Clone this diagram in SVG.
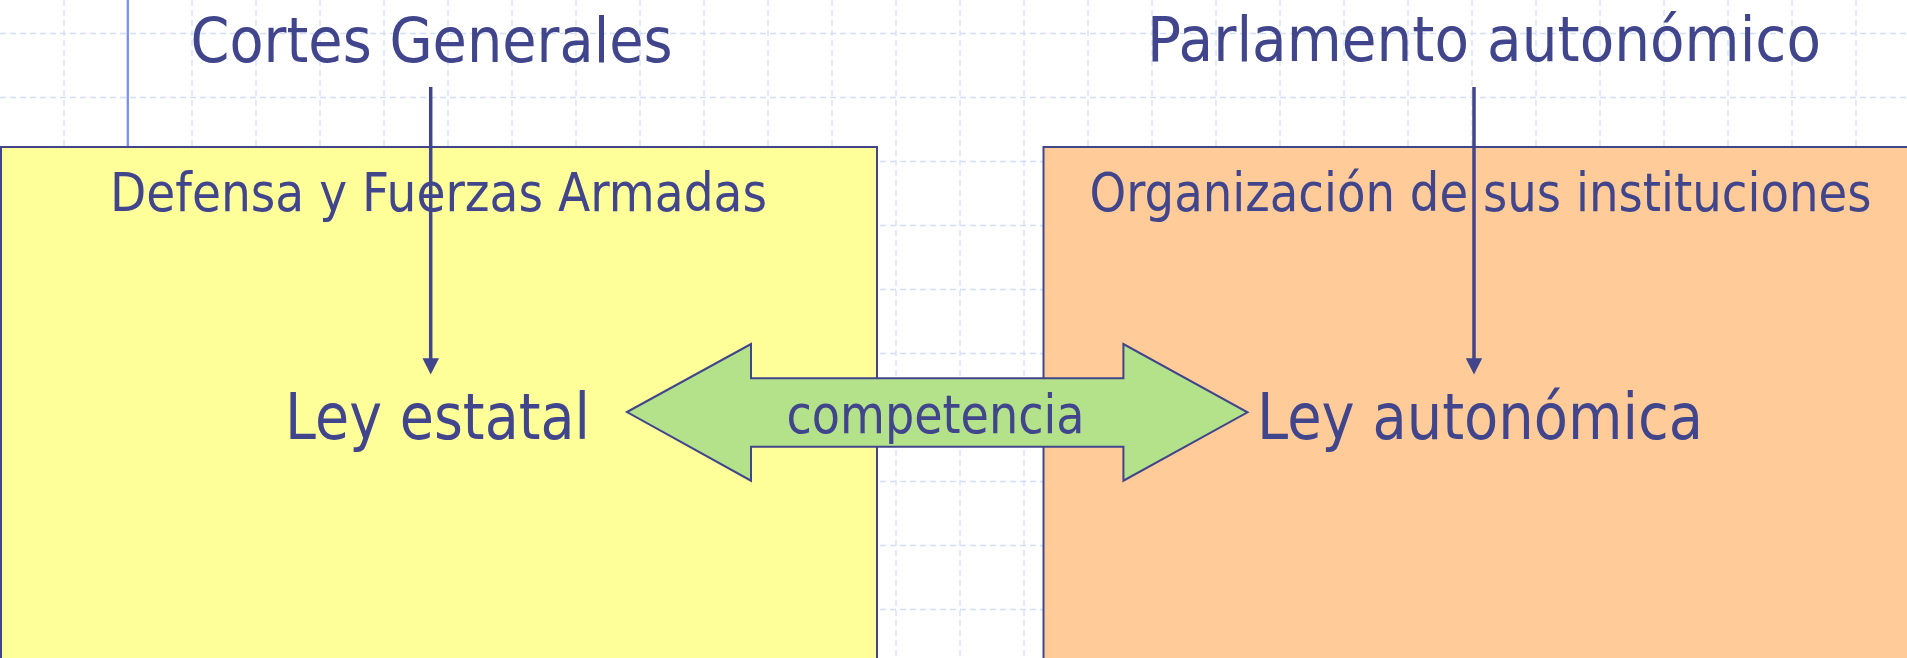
<svg xmlns="http://www.w3.org/2000/svg" width="1907" height="658" viewBox="0 0 1907 658">
<defs>
<style>
.grid line{stroke:#D2DEFA;stroke-width:1.3;stroke-dasharray:6 4}
.box{stroke:#40458C;stroke-width:2}
.t{font-family:"DejaVu Sans","Liberation Sans",sans-serif;fill:#41458C}
.conn line{stroke:#40458C;stroke-width:3.5}
.head{fill:#40458C}
</style>
</defs>
<rect width="1907" height="658" fill="#FFFFFF"/>
<g class="grid">
<line x1="64" y1="0" x2="64" y2="658"/><line x1="192" y1="0" x2="192" y2="658"/><line x1="256" y1="0" x2="256" y2="658"/><line x1="320" y1="0" x2="320" y2="658"/><line x1="384" y1="0" x2="384" y2="658"/><line x1="448" y1="0" x2="448" y2="658"/><line x1="512" y1="0" x2="512" y2="658"/><line x1="576" y1="0" x2="576" y2="658"/><line x1="640" y1="0" x2="640" y2="658"/><line x1="704" y1="0" x2="704" y2="658"/><line x1="768" y1="0" x2="768" y2="658"/><line x1="832" y1="0" x2="832" y2="658"/><line x1="896" y1="0" x2="896" y2="658"/><line x1="960" y1="0" x2="960" y2="658"/><line x1="1024" y1="0" x2="1024" y2="658"/><line x1="1088" y1="0" x2="1088" y2="658"/><line x1="1152" y1="0" x2="1152" y2="658"/><line x1="1216" y1="0" x2="1216" y2="658"/><line x1="1280" y1="0" x2="1280" y2="658"/><line x1="1344" y1="0" x2="1344" y2="658"/><line x1="1408" y1="0" x2="1408" y2="658"/><line x1="1472" y1="0" x2="1472" y2="658"/><line x1="1536" y1="0" x2="1536" y2="658"/><line x1="1600" y1="0" x2="1600" y2="658"/><line x1="1664" y1="0" x2="1664" y2="658"/><line x1="1728" y1="0" x2="1728" y2="658"/><line x1="1792" y1="0" x2="1792" y2="658"/><line x1="1856" y1="0" x2="1856" y2="658"/>
<line x1="0" y1="33.5" x2="1907" y2="33.5"/><line x1="0" y1="97.5" x2="1907" y2="97.5"/><line x1="0" y1="161.5" x2="1907" y2="161.5"/><line x1="0" y1="225.5" x2="1907" y2="225.5"/><line x1="0" y1="289.5" x2="1907" y2="289.5"/><line x1="0" y1="353.5" x2="1907" y2="353.5"/><line x1="0" y1="417.5" x2="1907" y2="417.5"/><line x1="0" y1="481.5" x2="1907" y2="481.5"/><line x1="0" y1="545.5" x2="1907" y2="545.5"/><line x1="0" y1="609.5" x2="1907" y2="609.5"/>
</g>
<line x1="127.8" y1="0" x2="127.8" y2="147" stroke="#7890F0" stroke-width="2.3"/>
<g id="estatal">
<rect class="box" x="1" y="147" width="876" height="530" fill="#FFFF99"/>
<text class="t" x="110" y="210.7" font-size="53" textLength="657" lengthAdjust="spacingAndGlyphs">Defensa y Fuerzas Armadas</text>
<text class="t" x="285" y="439.3" font-size="64.5" textLength="305" lengthAdjust="spacingAndGlyphs">Ley estatal</text>
</g>
<g id="autonomica">
<rect class="box" x="1043.5" y="147" width="880" height="530" fill="#FFCC99"/>
<text class="t" x="1089.5" y="210.7" font-size="53" textLength="782" lengthAdjust="spacingAndGlyphs">Organización de sus instituciones</text>
<text class="t" x="1257" y="439.3" font-size="64.5" textLength="446" lengthAdjust="spacingAndGlyphs">Ley autonómica</text>
</g>
<g id="cortes">
<text class="t" x="190.5" y="61.5" font-size="63" textLength="482" lengthAdjust="spacingAndGlyphs">Cortes Generales</text>
</g>
<g id="parlamento">
<text class="t" x="1147" y="61" font-size="63" textLength="674" lengthAdjust="spacingAndGlyphs">Parlamento autonómico</text>
</g>
<g id="connectors" class="conn">
<line x1="430.7" y1="87" x2="430.7" y2="360"/>
<polygon class="head" points="422.5,358.3 439,358.3 430.7,374.5"/>
<line x1="1474" y1="87" x2="1474" y2="360"/>
<polygon class="head" points="1465.8,358.3 1482.2,358.3 1474,374.5"/>
</g>
<g id="competencia">
<polygon points="627,412 751,344 751,378.3 1123.4,378.3 1123.4,344 1247.5,412.3 1123.4,480.7 1123.4,446.7 751,446.7 751,480.7" fill="#B3E28A" stroke="#40458C" stroke-width="2" stroke-linejoin="miter"/>
<text class="t" x="786.5" y="433.3" font-size="54" textLength="298" lengthAdjust="spacingAndGlyphs">competencia</text>
</g>
</svg>
